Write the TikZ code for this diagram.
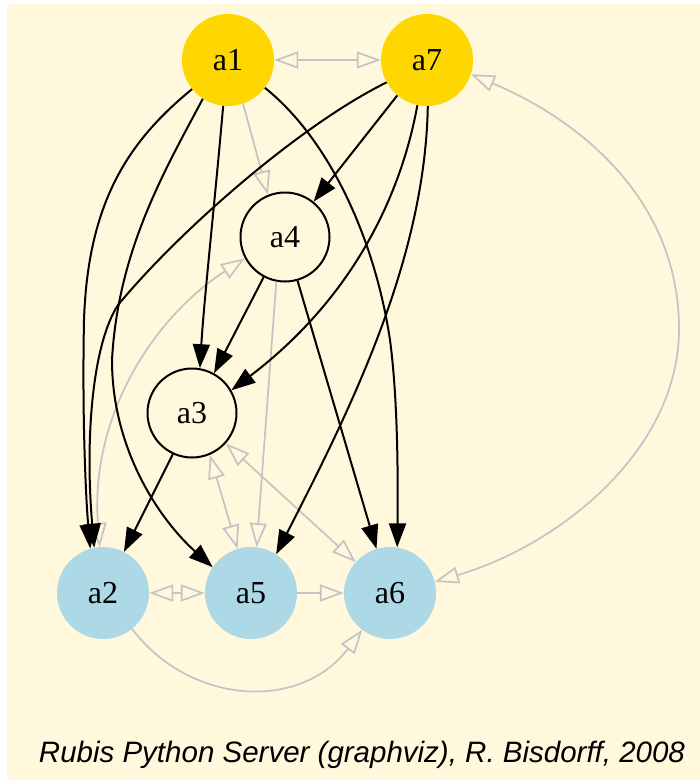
\documentclass[tikz,border=0pt]{standalone}
\usepackage{fontspec}
\setmainfont{Liberation Serif}
\newfontfamily\capfont{Liberation Sans}
\usetikzlibrary{arrows.meta}
\definecolor{bgcream}{HTML}{FFF8DC}
\definecolor{goldc}{HTML}{FFD700}
\definecolor{lblue}{HTML}{ADD8E6}
\definecolor{egrey}{HTML}{C4C4C4}
\begin{document}
\begin{tikzpicture}[x=1pt,y=-1pt,
  lbl/.style={font=\fontsize{32}{36}\selectfont},
  topnode/.style={circle,fill=goldc,draw=none,minimum size=92pt,inner sep=0pt,lbl},
  botnode/.style={circle,fill=lblue,draw=none,minimum size=92pt,inner sep=0pt,lbl},
  midnode/.style={circle,draw=black,line width=2pt,minimum size=89pt,inner sep=0pt,lbl},
  blk/.style={draw=black,line width=2pt,-{Triangle[length=24pt,width=17pt]}},
  gry/.style={draw=egrey,line width=1.7pt,-{Triangle[open,length=24pt,width=17pt]}},
  gryb/.style={draw=egrey,line width=1.7pt,{Triangle[open,length=24pt,width=17pt]}-{Triangle[open,length=24pt,width=17pt]}}]
\useasboundingbox (0,0) rectangle (700,782);
\fill[white] (0,0) rectangle (700,782);
\fill[bgcream] (7,4) rectangle (700,780);

\node[topnode] (a1) at (228,60) {a1};
\node[topnode] (a7) at (427,60) {a7};
\node[midnode] (a4) at (285,237) {a4};
\node[midnode] (a3) at (192,413) {a3};
\node[botnode] (a2) at (103,593) {a2};
\node[botnode] (a5) at (251,593) {a5};
\node[botnode] (a6) at (390,593) {a6};

% grey edges
\draw[gryb] (a1.east) -- (a7.west);
\draw[gry] (a1.289) -- (a4.112);
\draw[gryb] (a2.94) .. controls (90,420) and (150,320) .. (a4.208);
\draw[gry] (a4.259) -- (a5.83);
\draw[gryb] (a3.293) -- (a5.107);
\draw[gryb] (a3.318) -- (a6.138);
\draw[gryb] (a2.east) -- (a5.west);
\draw[gry] (a5.east) -- (a6.west);
\draw[gry] (a2.309) .. controls (190,705) and (300,712) .. (a6.233);
\draw[gryb] (a6.14) .. controls (560,545) and (679,450) .. (679,329)
   .. controls (679,200) and (580,120) .. (a7.342);

% black edges
\draw[blk] (a1.219) .. controls (130,140) and (88,200) .. (84,320)
   .. controls (82,420) and (86,500) .. (a2.106);
\draw[blk] (a7.209) .. controls (300,125) and (180,230) .. (118,305)
   .. controls (92,345) and (85,440) .. (a2.101);
\draw[blk] (a1.237) .. controls (165,170) and (118,250) .. (112,360)
   .. controls (112,450) and (160,520) .. (a5.146);
\draw[blk] (a1.264) .. controls (215,200) and (204,300) .. (a3.80);
\draw[blk] (a1.323) .. controls (330,140) and (375,240) .. (390,340)
   .. controls (398,400) and (398,480) .. (a6.81);
\draw[blk] (a7.230) -- (a4.51);
\draw[blk] (a7.258) .. controls (400,200) and (350,300) .. (a3.30);
\draw[blk] (a7.271) .. controls (425,260) and (350,410) .. (a5.57);
\draw[blk] (a4.242) -- (a3.61);
\draw[blk] (a4.286) -- (a6.107);
\draw[blk] (a3.245) -- (a2.63);

\node[anchor=base,inner sep=0pt] (cap) at (362,762)
  {\capfont\itshape\fontsize{29.5}{32}\selectfont Rubis Python Server (graphviz), R. Bisdorff, 2008};
\end{tikzpicture}
\end{document}
